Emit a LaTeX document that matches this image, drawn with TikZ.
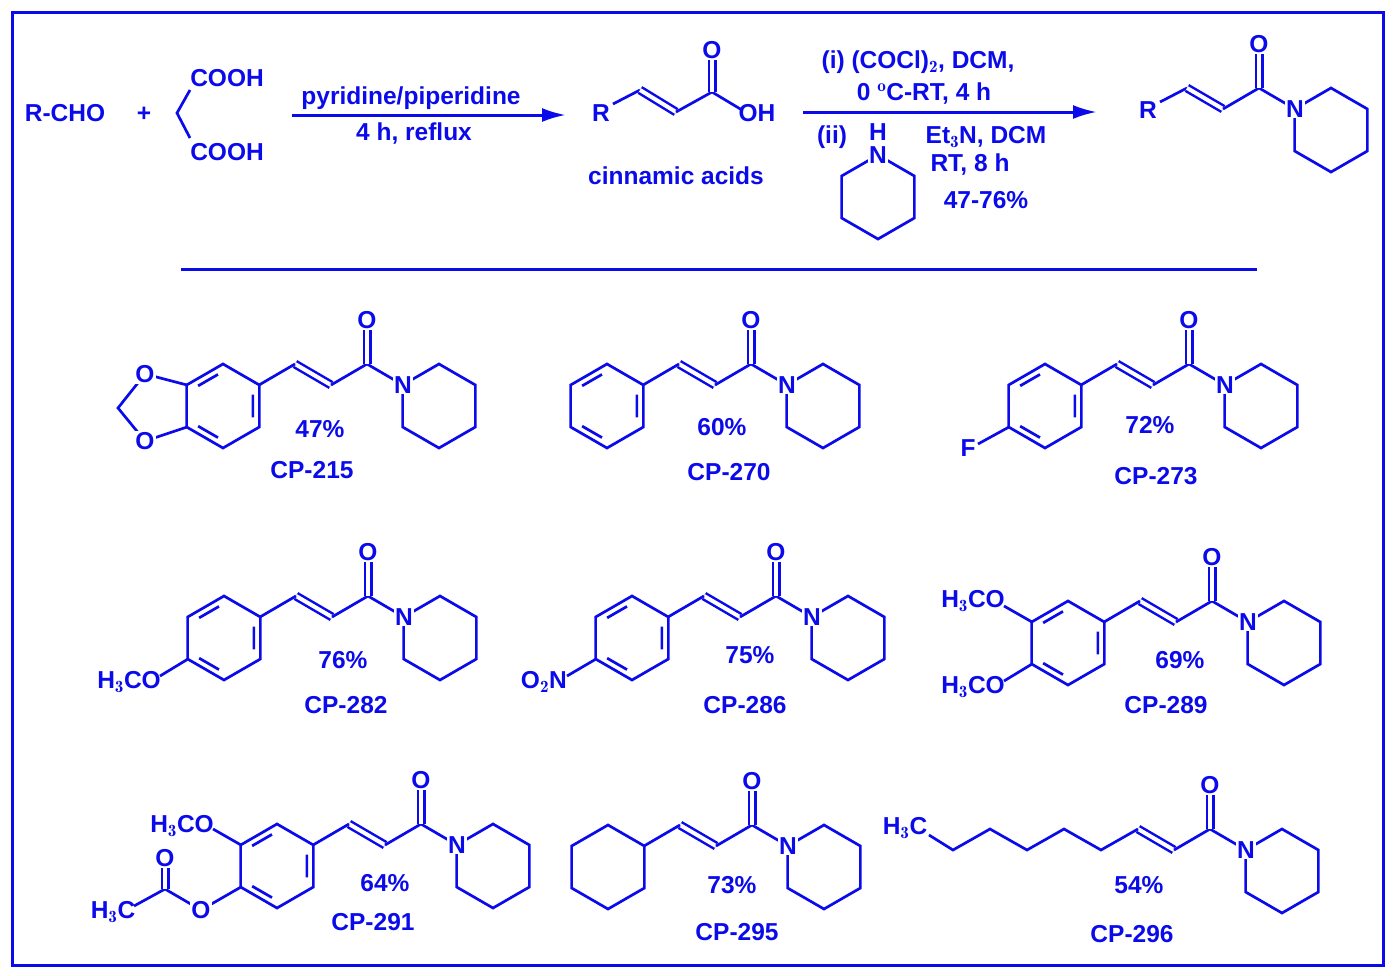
\documentclass[tikz,border=0pt]{standalone}
\usepackage{fontspec}
\setsansfont{Liberation Sans}
\usetikzlibrary{arrows.meta}
\begin{document}
\definecolor{cb}{RGB}{10,10,235}
\tikzset{
 bd/.style={draw=cb, line width=2.7pt},
 db/.style={draw=cb, double=white, double distance=4pt, line width=2.5pt},
 lab/.style={text=cb, font=\fontsize{24.5}{27}\selectfont\sffamily\bfseries, inner sep=1pt},
 wl/.style={lab, fill=white},
 arr/.style={draw=cb, line width=3pt, -{Latex[length=24pt,width=14pt]}}
}
\newcommand\hexr[2]{\draw[bd,shift={(#1,#2)}] (30:42)--(90:42)--(150:42)--(210:42)--(270:42)--(330:42)--cycle;}
\newcommand\arom[2]{\draw[bd,shift={(#1,#2)}] (339:32)--(21:32) (99:32)--(141:32) (219:32)--(261:32);}
\newcommand\amide[2]{%
 \draw[db] (#1-72,#2) -- (#1-36,#2+21);
 \draw[bd] (#1-36,#2+21) -- (#1,#2) -- (#1+36,#2+21);
 \draw[db] (#1,#2) -- (#1,#2-36);
 \node[wl] at (#1,#2-44) {O};
 \hexr{#1+72}{#2+42}
 \node[wl] at (#1+36,#2+21) {N};}
\newcommand\aryl[2]{% ring attached to amide at C (#1,#2)
 \draw[bd] (#1-108,#2+21) -- (#1-72,#2);
 \hexr{#1-144}{#2+42}}
\begin{tikzpicture}[x=1pt,y=-1pt]
\useasboundingbox (0,0) rectangle (1395,975);
\draw[draw=cb, line width=3pt] (12,12) rectangle (1383,965);
% top reaction
\node[lab] at (65,113) {R-CHO};
\node[lab] at (144,114) {+};
\node[lab] at (227,78) {COOH};
\node[lab] at (227,152) {COOH};
\draw[bd] (190,90) -- (177,113) -- (190,138);
\draw[arr] (292,115) -- (566,115);
\node[lab] at (411,98) {pyridine/piperidine};
\node[lab] at (414,134) {4 h, reflux};
% cinnamic acid
\node[lab] (r1) at (601,113) {R};
\draw[bd] (613,104) -- (640,90);
\draw[db] (640,90) -- (676,112);
\draw[bd] (676,112) -- (712,92) -- (742,110);
\draw[db] (712,92) -- (712,58);
\node[wl] at (712,50) {O};
\node[lab] at (757,113) {OH};
\node[lab] at (676,176) {cinnamic acids};
\draw[arr] (803,112) -- (1097,112);
\node[lab] at (918,62) {(i) (COCl)$_\mathbf{2}$, DCM,};
\node[lab] at (924,94) {0 $^\mathbf{o}$C-RT, 4 h};
\node[lab] at (832,137) {(ii)};
\hexr{878}{197}
\node[wl] at (878,155) {N};
\node[lab] at (878,132) {H};
\node[lab] at (986,137) {Et$_\mathbf{3}$N, DCM};
\node[lab] at (970,165) {RT, 8 h};
\node[lab] at (986,200) {47-76\%};
% product
\node[lab] at (1148,110) {R};
\draw[bd] (1160,102) -- (1187,88);
\amide{1259}{88}
% separator
\draw[draw=cb, line width=3pt] (181,269) -- (1257,269);
% CP-215
\amide{367}{364}\aryl{367}{364}\arom{223}{406}
\draw[bd] (187,385) -- (145,374) -- (118,408) -- (145,441) -- (187,427);
\node[wl] at (145,374) {O};\node[wl] at (145,441) {O};
\node[lab] at (320,429) {47\%};\node[lab] at (312,470) {CP-215};
% CP-270
\amide{751}{364}\aryl{751}{364}\arom{607}{406}
\node[lab] at (722,427) {60\%};\node[lab] at (729,472) {CP-270};
% CP-273
\amide{1189}{364}\aryl{1189}{364}\arom{1045}{406}
\draw[bd] (1009,427) -- (978,444);
\node[lab] at (968,448) {F};
\node[lab] at (1150,425) {72\%};\node[lab] at (1156,476) {CP-273};
% CP-282
\amide{368}{596}\aryl{368}{596}\arom{224}{638}
\draw[bd] (188,659) -- (160,676);
\node[lab,anchor=east] at (162,682) {H$_\mathbf{3}$CO};
\node[lab] at (343,660) {76\%};\node[lab] at (346,705) {CP-282};
% CP-286
\amide{776}{596}\aryl{776}{596}\arom{632}{638}
\draw[bd] (596,659) -- (567,676);
\node[lab,anchor=east] at (568,682) {O$_\mathbf{2}$N};
\node[lab] at (750,655) {75\%};\node[lab] at (745,705) {CP-286};
% CP-289
\amide{1212}{601}\aryl{1212}{601}\arom{1068}{643}
\draw[bd] (1032,622) -- (1004,606);
\draw[bd] (1032,664) -- (1004,681);
\node[lab,anchor=east] at (1006,601) {H$_\mathbf{3}$CO};
\node[lab,anchor=east] at (1006,687) {H$_\mathbf{3}$CO};
\node[lab] at (1180,660) {69\%};\node[lab] at (1166,705) {CP-289};
% CP-291
\amide{421}{824}\aryl{421}{824}\arom{277}{866}
\draw[bd] (241,845) -- (213,829);
\node[lab,anchor=east] at (215,826) {H$_\mathbf{3}$CO};
\draw[bd] (241,887) -- (201,910) -- (165,889) -- (134,906);
\draw[db] (165,889) -- (165,866);
\node[wl] at (165,858) {O};
\node[wl] at (201,910) {O};
\node[lab] at (113,912) {H$_\mathbf{3}$C};
\node[lab] at (385,883) {64\%};\node[lab] at (373,922) {CP-291};
% CP-295
\amide{752}{825}\aryl{752}{825}
\node[lab] at (732,885) {73\%};\node[lab] at (737,932) {CP-295};
% CP-296
\amide{1210}{829}
\draw[bd] (1138,829) -- (1101,850) -- (1064,829) -- (1027,850) -- (990,829) -- (953,850) -- (929,835);
\node[lab] at (905,828) {H$_\mathbf{3}$C};
\node[lab] at (1139,885) {54\%};\node[lab] at (1132,934) {CP-296};
\end{tikzpicture}
\end{document}
